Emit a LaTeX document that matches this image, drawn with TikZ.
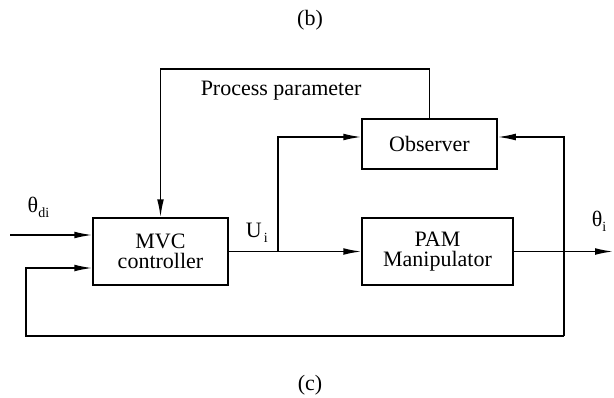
\documentclass[tikz,border=0pt]{standalone}
\usepackage{fontspec}
\setmainfont{Liberation Serif}
\usetikzlibrary{positioning, arrows.meta}
\newcommand{\lowsub}[1]{\raisebox{-2.8pt}{\fontsize{7}{7}\selectfont #1}}

\begin{document}
\begin{tikzpicture}[x=0.5pt, y=-0.5pt, font=\fontsize{11}{9.8}\selectfont,
    line width=0.75pt, >={Latex[length=9pt, width=3.4pt]}]
    \tikzset{block/.style={draw, align=center, inner sep=0pt, minimum width=67.5pt, minimum height=33.5pt},
      lbl/.style={anchor=base west, inner sep=0pt}}
    \useasboundingbox (0,0) rectangle (614,397);
    % blocks
    \node[block] (mvc) at (160.5,251.5) {MVC\\controller};
    \node[block, minimum height=25pt] (obs) at (429.5,144) {Observer};
    \node[block, minimum width=75.5pt] (pam) at (437.5,251.5) {PAM\\Manipulator};
    % helper points
    \coordinate (inp) at (10,235);
    \coordinate (fby) at (0,268);
    \coordinate (fbl) at (26,336);
    \coordinate (fbr) at (564,336);
    \coordinate (obsy) at (0,137);
    \coordinate (topy) at (0,69);
    \coordinate (branch) at (278,251.5);
    \coordinate (out) at (613,251.5);
    % connectors
    \draw[->] (inp) -- (inp -| mvc.west);
    \draw[->] (mvc) -- (pam);
    \draw[->] (branch) |- (obs.west |- obsy);
    \draw[->] (obs.north) -- (obs.north |- topy) -| (mvc.north);
    \draw[->] (pam) -- (out);
    \draw[->] (fbr) |- (obs.east |- obsy);
    \draw[->] (fbr) -- (fbl) |- (mvc.west |- fby);
    % labels
    \node[lbl] (thdi) at (27,212) {θ\lowsub{di}};
    \node[lbl] (ui) at (245,237) {U\lowsub{\,i}};
    \node[lbl] (thi) at (591,226) {θ\lowsub{i}};
    \node[lbl] (pp) at (200,95) {Process parameter};
    \node (capb) at (310,20) {(b)};
    \node (capc) at (310,385) {(c)};
\end{tikzpicture}
\end{document}
